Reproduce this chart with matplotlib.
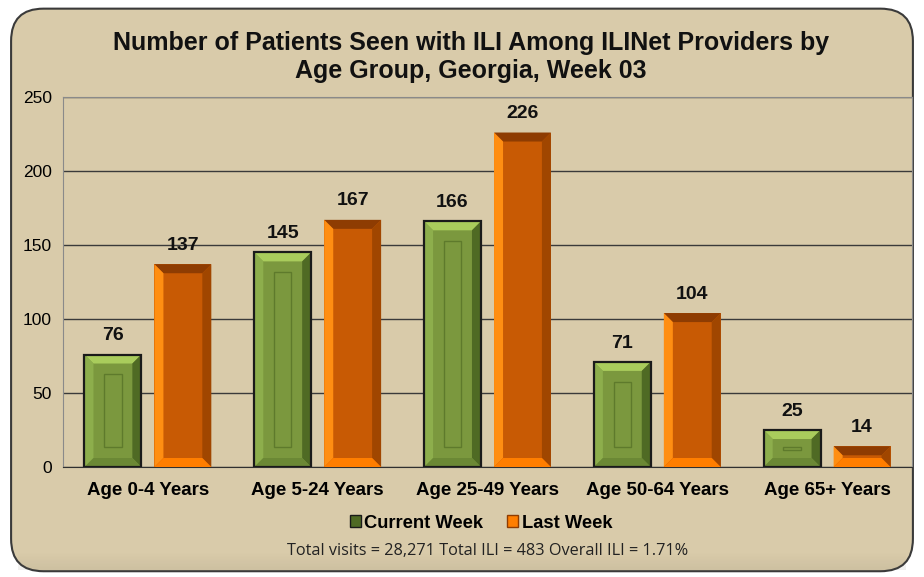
import matplotlib
matplotlib.use("Agg")
import matplotlib.pyplot as plt
from matplotlib.patches import Polygon, Rectangle, FancyBboxPatch, Patch
import numpy as np

categories = ["Age 0-4 Years", "Age 5-24 Years", "Age 25-49 Years", "Age 50-64 Years", "Age 65+ Years"]
current_week = [76, 145, 166, 71, 25]
last_week = [137, 167, 226, 104, 14]
series_names = ["Current Week", "Last Week"]
title = "Number of Patients Seen with ILI Among ILINet Providers by\nAge Group, Georgia, Week 03"
footer = "Total visits = 28,271 Total ILI = 483 Overall ILI = 1.71%"
yticks = [0, 50, 100, 150, 200, 250]

W, H = 924, 577
fig = plt.figure(figsize=(W / 100, H / 100), dpi=100)
fig.patch.set_facecolor("white")

# outer rounded frame
frame = FancyBboxPatch((0.012, 0.01), 0.976, 0.975, boxstyle="round,pad=0,rounding_size=0.035",
                       transform=fig.transFigure, facecolor="#D9CBAA", edgecolor="#3a3a3a",
                       linewidth=1.5, zorder=-10, mutation_aspect=W / H)
fig.patches.append(frame)
# bottom shading
for i in range(12):
    fig.patches.append(Rectangle((0.02, 0.012 + i * 0.0025), 0.96, 0.0025, transform=fig.transFigure,
                                 facecolor="#5a5548", alpha=0.09 * (12 - i) / 12, edgecolor="none", zorder=-9))

ax = fig.add_axes([63 / W, 1 - 467 / H, (912 - 63) / W, (467 - 97) / H])
ax.set_facecolor("#D9CBAA")
ax.set_xlim(-0.5, len(categories) - 0.5)
ax.set_ylim(0, 250)
ax.set_yticks(yticks)
ax.set_yticklabels([str(v) for v in yticks], fontsize=12.5, family="Liberation Sans")
ax.set_xticks(range(len(categories)))
ax.set_xticklabels(categories, fontsize=13.5, fontweight="bold", family="Liberation Sans")
ax.tick_params(axis="both", length=0, pad=8)
ax.tick_params(axis="x", pad=11)
ax.yaxis.grid(True, color="#3a3a3a", linewidth=1.0)
ax.set_axisbelow(True)
for s in ["top", "right", "left"]:
    ax.spines[s].set_color("#8a8a8a")
ax.spines["bottom"].set_color("#303030")

fig.canvas.draw()
bb = ax.get_window_extent()
px_x = bb.width / (len(categories))  # pixels per x unit
px_y = bb.height / 250.0

bw = 0.335
off = 0.206
bev_px = 9

def draw_bar(x, v, cols, edge, inner=None):
    x0, x1 = x - bw / 2, x + bw / 2
    bx = bev_px / px_x
    by = min(bev_px / px_y, v / 2.2)
    face, top, left, right, bottom = cols
    ax.add_patch(Rectangle((x0, 0), bw, v, facecolor=face, edgecolor="none", zorder=3))
    ax.add_patch(Polygon([(x0, v), (x1, v), (x1 - bx, v - by), (x0 + bx, v - by)], closed=True,
                         facecolor=top, edgecolor="none", zorder=4))
    ax.add_patch(Polygon([(x0, 0), (x0, v), (x0 + bx, v - by), (x0 + bx, by)], closed=True,
                         facecolor=left, edgecolor="none", zorder=4))
    ax.add_patch(Polygon([(x1, 0), (x1, v), (x1 - bx, v - by), (x1 - bx, by)], closed=True,
                         facecolor=right, edgecolor="none", zorder=4))
    ax.add_patch(Polygon([(x0, 0), (x1, 0), (x1 - bx, by), (x0 + bx, by)], closed=True,
                         facecolor=bottom, edgecolor="none", zorder=4))
    if inner is not None and v > 20:
        ix = 2.2 * bx
        iy = 2.2 * by
        ax.add_patch(Rectangle((x0 + ix, iy), bw - 2 * ix, v - 2 * iy, facecolor="none",
                               edgecolor=inner, linewidth=1.0, zorder=5))
    if edge is not None:
        ax.add_patch(Rectangle((x0, 0), bw, v, facecolor="none", edgecolor=edge, linewidth=1.6, zorder=6))

green = ("#7B983E", "#A9CC5C", "#8DAE4C", "#4F6A24", "#6B8835")
orange = ("#C85A04", "#8E3C02", "#FF8E12", "#A04600", "#FF7E00")

for i, (c, l) in enumerate(zip(current_week, last_week)):
    draw_bar(i - off, c, green, "#1a1a1a", inner="#5e7a2c")
    draw_bar(i + off, l, orange, None)
    ax.text(i - off, c + 7, str(c), ha="center", va="bottom", fontsize=14, fontweight="bold",
            family="Liberation Sans", color="#111111")
    ax.text(i + off, l + 7, str(l), ha="center", va="bottom", fontsize=14, fontweight="bold",
            family="Liberation Sans", color="#111111")

fig.text(471 / W, 1 - 57 / H, title, ha="center", va="center", fontsize=18, fontweight="bold",
         family="Liberation Sans", color="#111111", linespacing=1.25)

handles = [Patch(facecolor="#4F6A24", edgecolor="#1a1a1a"), Patch(facecolor="#FF7E00", edgecolor="#8E3C02")]
leg = fig.legend(handles, series_names, loc="center", bbox_to_anchor=(481 / W, 1 - 523 / H), ncol=2,
                 frameon=False, handlelength=0.6, handleheight=0.6, handletextpad=0.2, columnspacing=1.3,
                 prop={"family": "Liberation Sans", "weight": "bold", "size": 13.2})

fig.text(488 / W, 1 - 551 / H, footer, ha="center", va="center", fontsize=11.7, family="Open Sans",
         color="#222222")

fig.savefig("out.png", dpi=100, facecolor=fig.get_facecolor())
